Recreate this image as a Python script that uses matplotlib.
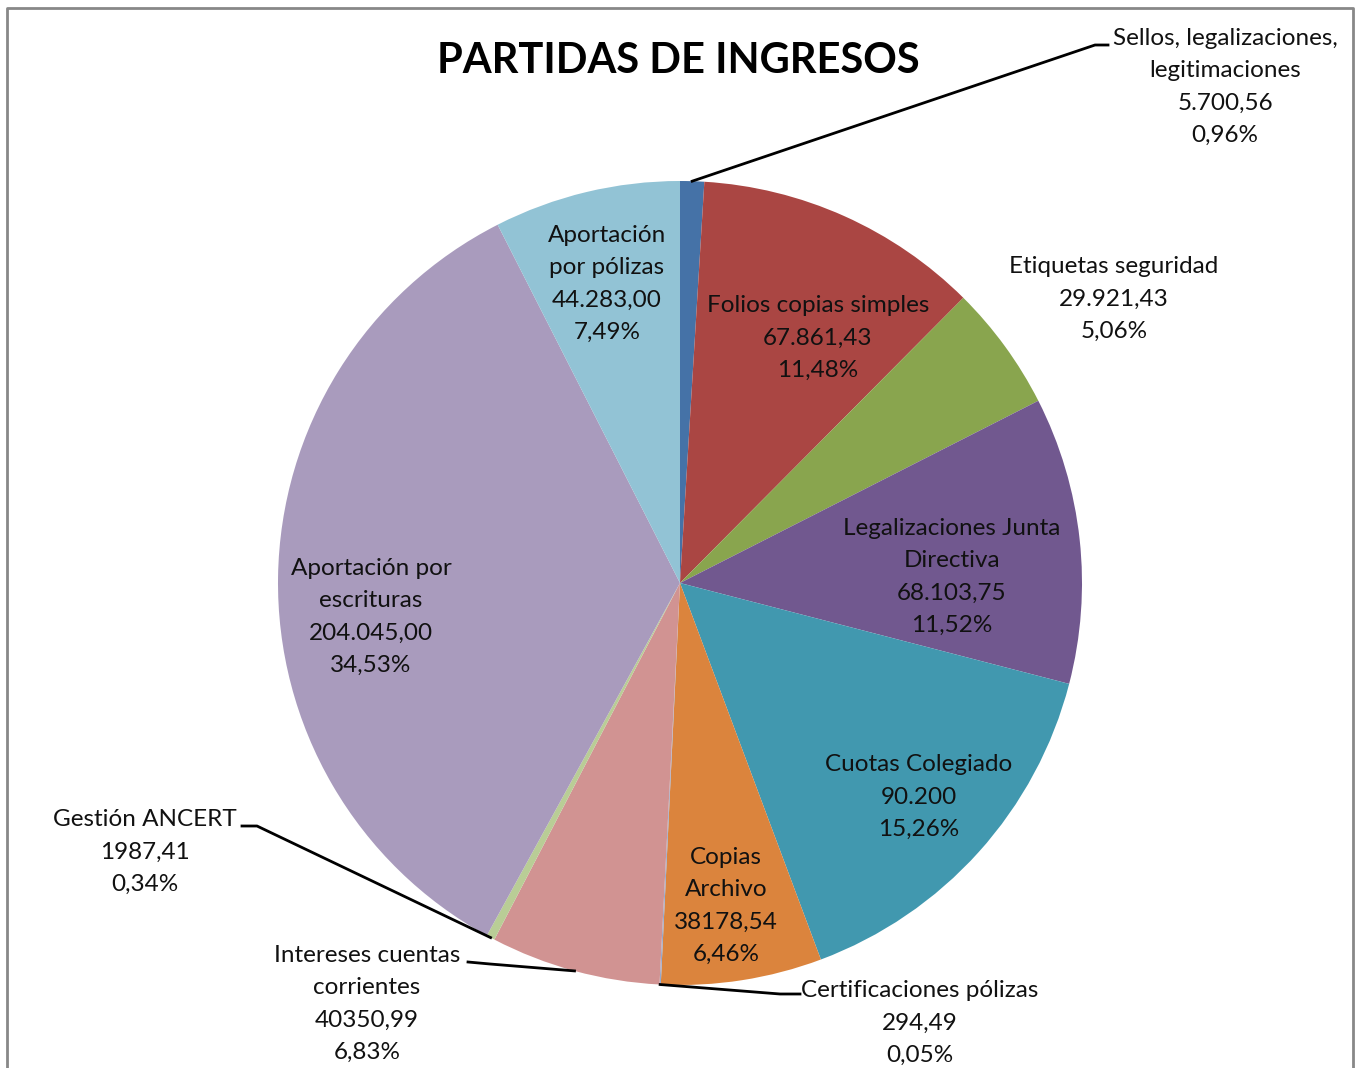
import matplotlib.pyplot as plt
import numpy as np

plt.rcParams['font.family'] = ['Lato', 'DejaVu Sans']

names = ['Sellos, legalizaciones,\nlegitimaciones', 'Folios copias simples',
         'Etiquetas seguridad', 'Legalizaciones Junta\nDirectiva', 'Cuotas Colegiado',
         'Copias\nArchivo', 'Certificaciones pólizas', 'Intereses cuentas\ncorrientes',
         'Gestión ANCERT', 'Aportación por\nescrituras', 'Aportación\npor pólizas']
values = [5700.56, 67861.43, 29921.43, 68103.75, 90200, 38178.54, 294.49,
          40350.99, 1987.41, 204045.00, 44283.00]
value_text = ['5.700,56', '67.861,43', '29.921,43', '68.103,75', '90.200', '38178,54',
              '294,49', '40350,99', '1987,41', '204.045,00', '44.283,00']
colors = ['#4572A7', '#AA4643', '#89A54E', '#71588F', '#4198AF', '#DB843D',
          '#93A9CF', '#D19392', '#B9CD96', '#A99BBD', '#92C3D5']

W, H = 1362, 1068
fig = plt.figure(figsize=(W / 100, H / 100), dpi=100)
ax = fig.add_axes([0, 0, 1, 1])

cx, cy, r = 680, H - 583, 402
wedges, _ = ax.pie(values, colors=colors, startangle=90, counterclock=False,
                   center=(cx, cy), radius=r, frame=True,
                   wedgeprops=dict(linewidth=0))
ax.set_xlim(0, W)
ax.set_ylim(0, H)
ax.set_aspect('equal')
ax.axis('off')

total = sum(values)
labels = []
for n, v, p in zip(names, value_text, values):
    pct = f'{100 * p / total:.2f}'.replace('.', ',') + '%'
    labels.append(f'{n}\n{v}\n{pct}')

# label centres in pixel coords (x, y from top)
pos = [(1225, 87), (818, 338), (1114, 299), (952, 577), (919, 797), (726, 906),
       (920, 1023), (367, 1004), (145, 852), (371, 617), (607, 284)]
for lab, (x, y) in zip(labels, pos):
    ax.text(x, H - y, lab, ha='center', va='center', fontsize=17.5,
            linespacing=1.68, color='#111111')

# leader lines for small slices
leaders = {0: [(1095, 45), (1108, 45)], 6: [(780, 994), (800, 994)],
           7: [(490, 964), (468, 962)], 8: [(257, 826), (242, 826)]}
for i, pts in leaders.items():
    w = wedges[i]
    a = np.deg2rad((w.theta1 + w.theta2) / 2)
    xs = [cx + r * np.cos(a)] + [p[0] for p in pts]
    ys = [cy + r * np.sin(a)] + [H - p[1] for p in pts]
    ax.plot(xs, ys, color='black', lw=2)

ax.text(678, H - 61, 'PARTIDAS DE INGRESOS', ha='center', va='center',
        fontsize=30, fontweight='bold')

# outer frame
ax.plot([7, 7, 1353, 1353], [-5, H - 8, H - 8, -5], color='#888888', lw=2)

fig.savefig('out.png', dpi=100)
